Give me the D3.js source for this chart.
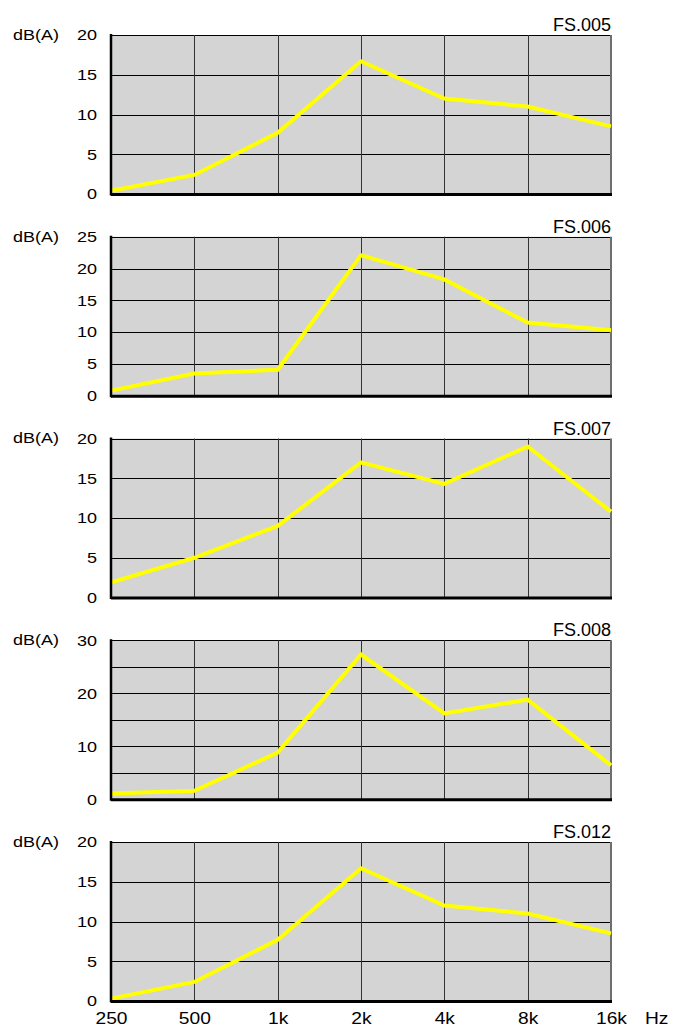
<!DOCTYPE html>
<html>
<head>
<meta charset="utf-8">
<script src="https://cdn.jsdelivr.net/npm/d3@7"></script>
<style>
  body { margin: 0; background: #fff; }
  svg { display: block; font-family: "Liberation Sans", Arial, sans-serif; }
</style>
</head>
<body>
<svg id="chart" width="686" height="1028"></svg>
<script>
// frequency bands (x categories)
var freqs = ["250", "500", "1k", "2k", "4k", "8k", "16k"];

// one series per panel, dB(A)
var titles = ["FS.005", "FS.006", "FS.007", "FS.008", "FS.012"];
var fs005 = [0.4, 2.4, 7.7, 16.7, 12.0, 11.0, 8.5];
var fs006 = [0.8, 3.5, 4.1, 22.1, 18.3, 11.5, 10.3];
var fs007 = [1.9, 5.0, 9.0, 17.0, 14.3, 19.0, 10.8];
var fs008 = [1.1, 1.6, 8.8, 27.3, 16.2, 18.8, 6.4];
var fs012 = [0.3, 2.4, 7.7, 16.7, 12.0, 11.0, 8.5];
var series = [fs005, fs006, fs007, fs008, fs012];

// y axis maximum, label step and grid step for each panel
var yMax = [20, 25, 20, 30, 20];
var labelStep = [5, 5, 5, 10, 5];
var gridStep = 5;

var svg = d3.select("#chart");
var left = 111, right = 611, panelH = 159, panelGap = 201.75, firstTop = 35;
var sx = 1.2; // labels in the original are a bit wide

var x = d3.scalePoint().domain(freqs).range([left, right]);

series.forEach(function(vals, i) {
    var top = firstTop + i * panelGap;
    var bottom = top + panelH;
    var y = d3.scaleLinear().domain([0, yMax[i]]).range([bottom, top]);
    var g = svg.append("g");

    g.append("rect")
        .attr("x", left).attr("y", top)
        .attr("width", right - left).attr("height", panelH)
        .attr("fill", "#d4d4d4");

    // horizontal grid
    g.append("g")
        .selectAll("line")
        .data(d3.range(gridStep, yMax[i] + 0.1, gridStep))
        .enter().append("line")
        .attr("x1", left).attr("x2", right)
        .attr("y1", function(d){ return Math.round(y(d)) + 0.5; })
        .attr("y2", function(d){ return Math.round(y(d)) + 0.5; })
        .attr("stroke", "#000").attr("stroke-width", 1);

    // vertical grid
    g.append("g")
        .selectAll("line")
        .data(freqs.slice(1, -1))
        .enter().append("line")
        .attr("x1", function(d){ return Math.round(x(d)) + 0.5; })
        .attr("x2", function(d){ return Math.round(x(d)) + 0.5; })
        .attr("y1", top).attr("y2", bottom)
        .attr("stroke", "#333").attr("stroke-width", 1);

    // right border
    g.append("line")
        .attr("x1", right).attr("x2", right)
        .attr("y1", top).attr("y2", bottom)
        .attr("stroke", "#6e6e6e").attr("stroke-width", 2);

    // line
    g.append("path")
        .datum(vals)
        .attr("fill", "none")
        .attr("stroke", "#ffff00")
        .attr("stroke-width", 4)
        .attr("d", d3.line()
            .x(function(d, j){ return x(freqs[j]); })
            .y(function(d){ return y(d); }));

    // axes lines
    g.append("line")
        .attr("x1", left).attr("x2", left)
        .attr("y1", top - 1).attr("y2", bottom + 1.5)
        .attr("stroke", "#000").attr("stroke-width", 2.5);
    g.append("line")
        .attr("x1", left).attr("x2", right + 1)
        .attr("y1", bottom + 0.5).attr("y2", bottom + 0.5)
        .attr("stroke", "#000").attr("stroke-width", 3);

    // y tick labels
    var yAxis = d3.axisLeft(y)
        .tickValues(d3.range(0, yMax[i] + 0.1, labelStep[i]))
        .tickSize(0).tickPadding(0);
    var ax = g.append("g")
        .attr("transform", "translate(" + left + ",0)")
        .call(yAxis);
    ax.select(".domain").remove();
    ax.selectAll("text")
        .attr("x", -14 / sx)
        .attr("transform", "scale(" + sx + ",1)")
        .attr("font-size", 15)
        .attr("font-family", "Liberation Sans, Arial, sans-serif")
        .attr("fill", "#000");

    g.append("text")
        .attr("transform", "scale(" + sx + ",1)")
        .attr("x", 13 / sx).attr("y", top)
        .attr("dy", "0.32em")
        .attr("font-size", 15)
        .text("dB(A)");

    g.append("text")
        .attr("x", right).attr("y", top - 4)
        .attr("text-anchor", "end")
        .attr("font-size", 18)
        .text(titles[i]);

    if (i === series.length - 1) {
        var xAxis = d3.axisBottom(x).tickSize(0).tickPadding(12);
        var xa = g.append("g")
            .attr("transform", "translate(0," + bottom + ")")
            .call(xAxis);
        xa.select(".domain").remove();
        xa.selectAll("text")
            .attr("transform", "scale(" + sx + ",1)")
            .attr("font-size", 16)
            .attr("font-family", "Liberation Sans, Arial, sans-serif")
            .attr("fill", "#000");
        g.append("text")
            .attr("transform", "scale(" + sx + ",1)")
            .attr("x", 645 / sx).attr("y", bottom + 12)
            .attr("dy", "0.71em")
            .attr("font-size", 16)
            .text("Hz");
    }
});
</script>
</body>
</html>
